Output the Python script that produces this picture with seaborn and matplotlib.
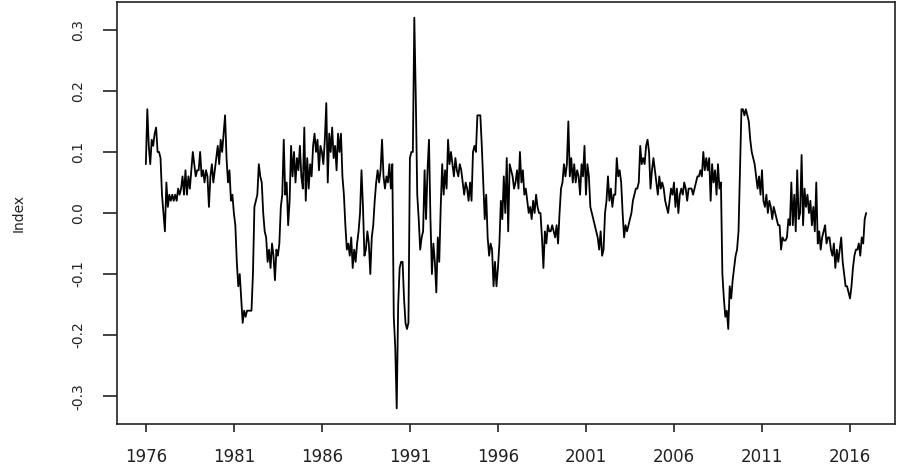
import numpy as np
import pandas as pd
import seaborn as sns
import matplotlib.pyplot as plt

# monthly index values (Jan..Dec)
y1976 = [0.08, 0.17, 0.11, 0.08, 0.12, 0.11, 0.13, 0.14, 0.10, 0.10, 0.09, 0.03]
y1977 = [0.00, -0.03, 0.05, 0.01, 0.03, 0.02, 0.03, 0.02, 0.03, 0.02, 0.04, 0.03]
y1978 = [0.04, 0.06, 0.03, 0.07, 0.03, 0.06, 0.04, 0.07, 0.10, 0.08, 0.06, 0.07]
y1979 = [0.07, 0.10, 0.06, 0.07, 0.05, 0.07, 0.06, 0.01, 0.06, 0.08, 0.05, 0.07]
y1980 = [0.09, 0.11, 0.08, 0.12, 0.10, 0.13, 0.16, 0.09, 0.05, 0.07, 0.02, 0.03]
y1981 = [0.00, -0.02, -0.08, -0.12, -0.10, -0.14, -0.18, -0.16, -0.17, -0.16, -0.16, -0.16]
y1982 = [-0.16, -0.10, 0.01, 0.02, 0.03, 0.08, 0.06, 0.05, 0.00, -0.03, -0.04, -0.08]
y1983 = [-0.06, -0.09, -0.05, -0.07, -0.11, -0.06, -0.07, -0.05, 0.01, 0.03, 0.12, 0.03]
y1984 = [0.05, -0.02, 0.02, 0.11, 0.06, 0.10, 0.05, 0.09, 0.07, 0.11, 0.06, 0.04]
y1985 = [0.14, 0.02, 0.09, 0.04, 0.08, 0.06, 0.11, 0.13, 0.10, 0.12, 0.07, 0.11]
y1986 = [0.10, 0.08, 0.12, 0.18, 0.05, 0.13, 0.10, 0.14, 0.09, 0.11, 0.07, 0.13]
y1987 = [0.10, 0.13, 0.06, 0.03, -0.02, -0.06, -0.05, -0.07, -0.04, -0.09, -0.06, -0.08]
y1988 = [-0.05, -0.03, 0.00, 0.07, 0.01, -0.07, -0.06, -0.03, -0.05, -0.10, -0.04, -0.02]
y1989 = [0.02, 0.05, 0.07, 0.05, 0.07, 0.12, 0.06, 0.04, 0.06, 0.05, 0.08, 0.04]
y1990 = [0.08, -0.17, -0.22, -0.32, -0.15, -0.09, -0.08, -0.08, -0.14, -0.18, -0.19, -0.18]
y1991 = [0.09, 0.10, 0.10, 0.32, 0.19, 0.03, -0.01, -0.06, -0.04, -0.03, 0.07, -0.01]
y1992 = [0.07, 0.12, -0.01, -0.10, -0.05, -0.08, -0.13, -0.04, -0.08, 0.01, 0.08, 0.03]
y1993 = [0.07, 0.04, 0.12, 0.08, 0.10, 0.08, 0.06, 0.09, 0.07, 0.06, 0.08, 0.07]
y1994 = [0.05, 0.03, 0.05, 0.04, 0.02, 0.05, 0.02, 0.10, 0.11, 0.10, 0.16, 0.16]
y1995 = [0.16, 0.11, 0.05, -0.01, 0.03, -0.04, -0.07, -0.05, -0.06, -0.12, -0.08, -0.12]
y1996 = [-0.09, -0.05, 0.02, -0.01, 0.06, 0.00, 0.09, -0.03, 0.08, 0.07, 0.06, 0.04]
y1997 = [0.05, 0.07, 0.04, 0.10, 0.05, 0.07, 0.03, 0.04, 0.02, 0.00, 0.01, -0.01]
y1998 = [0.02, 0.00, 0.03, 0.01, 0.00, 0.00, -0.04, -0.09, -0.03, -0.05, -0.02, -0.03]
y1999 = [-0.03, -0.02, -0.03, -0.04, -0.02, -0.05, 0.00, 0.04, 0.05, 0.08, 0.06, 0.08]
y2000 = [0.15, 0.06, 0.09, 0.05, 0.08, 0.05, 0.07, 0.06, 0.03, 0.08, 0.06, 0.11]
y2001 = [0.03, 0.08, 0.06, 0.01, 0.00, -0.01, -0.02, -0.03, -0.04, -0.06, -0.03, -0.07]
y2002 = [-0.06, 0.00, 0.02, 0.06, 0.02, 0.04, 0.01, 0.03, 0.03, 0.09, 0.06, 0.07]
y2003 = [0.05, 0.00, -0.04, -0.02, -0.03, -0.02, -0.01, 0.00, 0.02, 0.03, 0.04, 0.04]
y2004 = [0.05, 0.11, 0.08, 0.09, 0.08, 0.11, 0.12, 0.10, 0.04, 0.07, 0.09, 0.07]
y2005 = [0.05, 0.03, 0.06, 0.04, 0.05, 0.04, 0.02, 0.01, 0.00, 0.02, 0.04, 0.03]
y2006 = [0.05, 0.01, 0.04, 0.00, 0.03, 0.04, 0.03, 0.05, 0.04, 0.02, 0.04, 0.04]
y2007 = [0.04, 0.03, 0.04, 0.05, 0.06, 0.06, 0.07, 0.06, 0.10, 0.07, 0.09, 0.07]
y2008 = [0.09, 0.02, 0.08, 0.05, 0.07, 0.03, 0.08, 0.04, 0.05, -0.10, -0.14, -0.17]
y2009 = [-0.16, -0.19, -0.12, -0.14, -0.11, -0.09, -0.07, -0.06, -0.03, 0.07, 0.17, 0.17]
y2010 = [0.16, 0.17, 0.16, 0.15, 0.12, 0.10, 0.09, 0.08, 0.06, 0.04, 0.06, 0.03]
y2011 = [0.07, 0.02, 0.01, 0.03, 0.00, 0.02, 0.01, -0.01, 0.01, 0.00, -0.01, -0.02]
y2012 = [-0.02, -0.06, -0.04, -0.045, -0.045, -0.04, -0.01, -0.02, 0.05, -0.02, 0.03, -0.03]
y2013 = [0.07, -0.01, 0.00, 0.095, -0.02, 0.04, 0.01, 0.03, 0.00, 0.02, -0.02, 0.01]
y2014 = [-0.03, 0.05, -0.05, -0.03, -0.06, -0.04, -0.03, -0.02, -0.05, -0.04, -0.04, -0.06]
y2015 = [-0.07, -0.05, -0.09, -0.06, -0.08, -0.06, -0.04, -0.08, -0.10, -0.12, -0.12, -0.13]
y2016 = [-0.14, -0.12, -0.09, -0.07, -0.06, -0.06, -0.05, -0.07, -0.04, -0.05, -0.01, 0.00]

yearly = [y1976, y1977, y1978, y1979, y1980, y1981, y1982, y1983, y1984, y1985,
          y1986, y1987, y1988, y1989, y1990, y1991, y1992, y1993, y1994, y1995,
          y1996, y1997, y1998, y1999, y2000, y2001, y2002, y2003, y2004, y2005,
          y2006, y2007, y2008, y2009, y2010, y2011, y2012, y2013, y2014, y2015,
          y2016]
values = np.concatenate(yearly)
t = 1976 + np.arange(len(values)) / 12.0
df = pd.DataFrame({'time': t, 'Index': values})

x_ticks = [1976, 1981, 1986, 1991, 1996, 2001, 2006, 2011, 2016]
y_ticks = [-0.3, -0.2, -0.1, 0.0, 0.1, 0.2, 0.3]
y_labels = ['-0.3', '-0.2', '-0.1', '0.0', '0.1', '0.2', '0.3']

sns.set_style('white')
fig = plt.figure(figsize=(9.01, 4.70), dpi=100)
ax = fig.add_axes([0.1299, 0.0979, 0.8634, 0.8978])

sns.lineplot(data=df, x='time', y='Index', color='black', linewidth=1.3, ax=ax)

# R-style axis limits (4% padding)
span_x = t[-1] - t[0]
ax.set_xlim(t[0] - 0.04 * span_x, t[-1] + 0.04 * span_x)
span_y = values.max() - values.min()
ax.set_ylim(values.min() - 0.04 * span_y, values.max() + 0.04 * span_y)

for s in ax.spines.values():
    s.set_visible(True)
    s.set_color('#222222')
    s.set_linewidth(1.2)

ax.set_xticks(x_ticks)
ax.set_xticklabels([str(v) for v in x_ticks], fontsize=12, color='#222222')
ax.set_yticks(y_ticks)
ax.set_yticklabels(y_labels, fontsize=10, rotation=90, va='center', color='#222222')
ax.tick_params(axis='x', direction='out', length=6, width=1.2, pad=11,
               bottom=True, color='#222222')
ax.tick_params(axis='y', direction='out', length=10, width=1.2, pad=13,
               left=True, color='#222222')

ax.set_xlabel('')
ax.set_ylabel('Index', fontsize=10, color='#222222', labelpad=33)

fig.savefig('out.png', dpi=100)
